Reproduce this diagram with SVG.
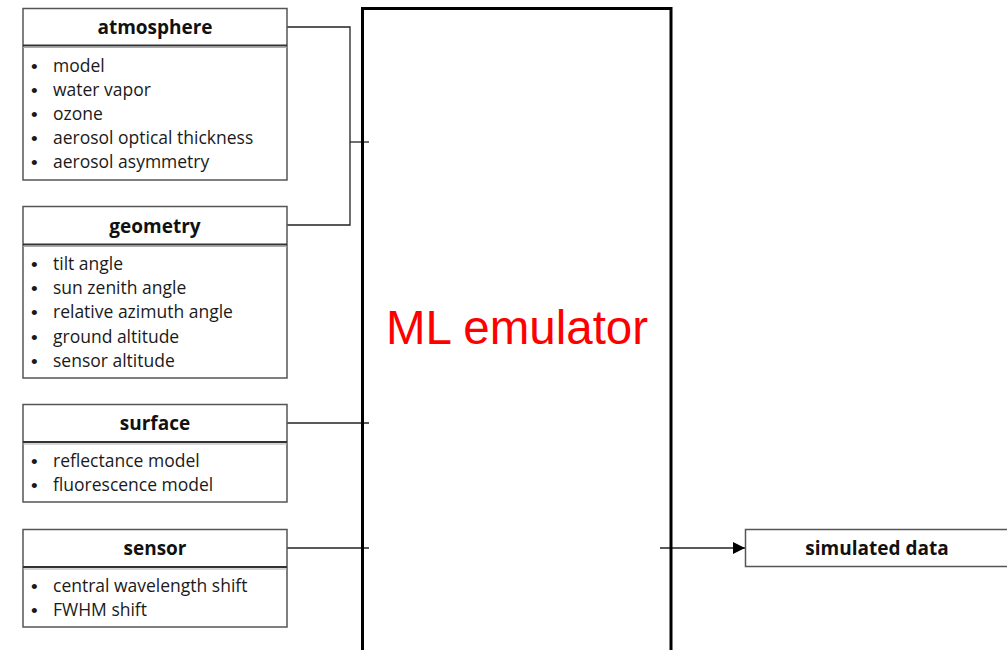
<svg xmlns="http://www.w3.org/2000/svg" width="1007" height="650" viewBox="0 0 1007 650">
<style>
.box{fill:#fff;stroke:#555;stroke-width:1.5}
.sep{stroke:#333;stroke-width:2}
.sep2{stroke:#aaa;stroke-width:1}
.hdr{font-family:"Open Sans",sans-serif;font-weight:bold;font-size:19px;fill:#111;text-anchor:middle}
.item{font-family:"Open Sans",sans-serif;font-size:17.5px;fill:#1a1a1a}
.bul{font-family:"Liberation Sans",sans-serif;font-size:19px;fill:#1a1a1a}
.con{fill:none;stroke:#222;stroke-width:1.3}
</style>
<defs>
<marker id="arr" markerWidth="12" markerHeight="12" refX="12" refY="6" orient="auto" markerUnits="userSpaceOnUse">
<path d="M0,0 L12,6 L0,12 Z" fill="#000"/>
</marker>
</defs>
<rect width="1007" height="650" fill="#fff"/>
<g id="connectors">
<path class="con" d="M287,27 H350 V225 H287"/>
<path class="con" d="M350,142 H369"/>
<path class="con" d="M287,423 H369"/>
<path class="con" d="M287,548 H369"/>
<path class="con" d="M660,548 H745" marker-end="url(#arr)"/>
</g>
<g id="ml-emulator">
<rect x="362.5" y="8.5" width="308.5" height="660" fill="none" stroke="#000" stroke-width="3"/>
<text x="517" y="344" font-family="Liberation Sans, Arial, sans-serif" font-size="47.5" fill="#ff0000" text-anchor="middle">ML emulator</text>
</g>
<g id="atmosphere">
<rect class="box" x="23" y="8.5" width="264" height="171.5"/>
<line class="sep" x1="23" y1="45.5" x2="287" y2="45.5"/>
<line class="sep2" x1="23" y1="47.5" x2="287" y2="47.5"/>
<text class="hdr" x="155" y="34">atmosphere</text>
<g class="bul">
<text x="31" y="73">•</text><text x="31" y="97">•</text><text x="31" y="121">•</text><text x="31" y="145">•</text><text x="31" y="169">•</text>
</g>
<g class="item">
<text x="53" y="72">model</text>
<text x="53" y="96">water vapor</text>
<text x="53" y="120">ozone</text>
<text x="53" y="144">aerosol optical thickness</text>
<text x="53" y="168">aerosol asymmetry</text>
</g>
</g>
<g id="geometry">
<rect class="box" x="23" y="206.5" width="264" height="171.5"/>
<line class="sep" x1="23" y1="244.5" x2="287" y2="244.5"/>
<line class="sep2" x1="23" y1="246.5" x2="287" y2="246.5"/>
<text class="hdr" x="155" y="233">geometry</text>
<g class="bul">
<text x="31" y="271">•</text><text x="31" y="295">•</text><text x="31" y="319">•</text><text x="31" y="344">•</text><text x="31" y="368">•</text>
</g>
<g class="item">
<text x="53" y="270">tilt angle</text>
<text x="53" y="294">sun zenith angle</text>
<text x="53" y="318">relative azimuth angle</text>
<text x="53" y="343">ground altitude</text>
<text x="53" y="367">sensor altitude</text>
</g>
</g>
<g id="surface">
<rect class="box" x="23" y="404.5" width="264" height="97.5"/>
<line class="sep" x1="23" y1="442" x2="287" y2="442"/>
<line class="sep2" x1="23" y1="444" x2="287" y2="444"/>
<text class="hdr" x="155" y="430">surface</text>
<g class="bul">
<text x="31" y="468">•</text><text x="31" y="492">•</text>
</g>
<g class="item">
<text x="53" y="467">reflectance model</text>
<text x="53" y="491">fluorescence model</text>
</g>
</g>
<g id="sensor">
<rect class="box" x="23" y="529.5" width="264" height="97.5"/>
<line class="sep" x1="23" y1="567" x2="287" y2="567"/>
<line class="sep2" x1="23" y1="569" x2="287" y2="569"/>
<text class="hdr" x="155" y="555">sensor</text>
<g class="bul">
<text x="31" y="593">•</text><text x="31" y="617">•</text>
</g>
<g class="item">
<text x="53" y="592">central wavelength shift</text>
<text x="53" y="616">FWHM shift</text>
</g>
</g>
<g id="simulated-data">
<rect class="box" x="745.5" y="529.5" width="270" height="37"/>
<text class="hdr" x="877" y="555">simulated data</text>
</g>
</svg>
